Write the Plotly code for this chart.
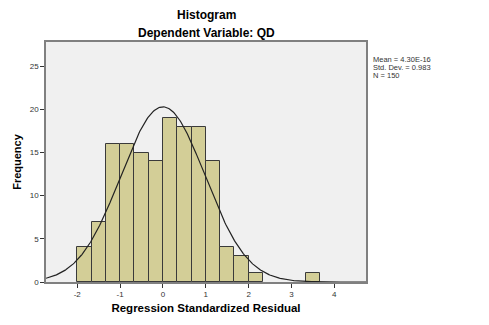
import numpy as np
import plotly.graph_objects as go

# Data
bin_left = [-2.0, -5/3, -4/3, -1.0, -2/3, -1/3, 0.0, 1/3, 2/3, 1.0, 4/3, 5/3, 2.0, 10/3]
counts = [4, 7, 16, 16, 15, 14, 19, 18, 18, 14, 4, 3, 1, 1]
bin_width = 1/3
mean = 4.30e-16
std = 0.983
n = 150
x_ticks = [-2, -1, 0, 1, 2, 3, 4]
y_ticks = [0, 5, 10, 15, 20, 25]
stats_lines = ["Mean = 4.30E-16", "Std. Dev. = 0.983", "N = 150"]

x_range = [-2.73, 4.74]
y_range = [0, 27.8]

centers = [b + bin_width / 2 for b in bin_left]

xs = np.linspace(x_range[0], x_range[1], 400)
ys = n * bin_width * np.exp(-0.5 * ((xs - mean) / std) ** 2) / (std * np.sqrt(2 * np.pi))

fig = go.Figure()
fig.add_trace(go.Bar(
    x=centers, y=counts, width=bin_width,
    marker=dict(color="#D3CE97", line=dict(color="#3a3a3a", width=1)),
    hoverinfo="x+y", showlegend=False,
))
fig.add_trace(go.Scatter(
    x=xs, y=ys, mode="lines",
    line=dict(color="#222222", width=1.2),
    showlegend=False, hoverinfo="skip",
))

font_family = "Liberation Sans, Arial, sans-serif"

annotations = [
    dict(text="<b>Histogram</b>", xref="paper", yref="paper", x=0.5, y=1,
         yshift=27, showarrow=False, font=dict(size=12, color="black"),
         xanchor="center", yanchor="middle"),
    dict(text="<b>Dependent Variable: QD</b>", xref="paper", yref="paper", x=0.5, y=1,
         yshift=9, showarrow=False, font=dict(size=12, color="black"),
         xanchor="center", yanchor="middle"),
]
for i, line in enumerate(stats_lines):
    annotations.append(dict(
        text=line, xref="paper", yref="paper", x=1, xshift=5, y=1, yshift=-17 - 8 * i,
        showarrow=False, align="left", xanchor="left", yanchor="middle",
        font=dict(size=7.5, color="#333333"),
    ))

fig.update_layout(
    width=489, height=325,
    margin=dict(l=46, r=123, t=42, b=38),
    paper_bgcolor="white",
    plot_bgcolor="#F0F0F0",
    bargap=0,
    font=dict(family=font_family, size=8, color="#333333"),
    annotations=annotations,
)

fig.update_xaxes(
    range=x_range, tickvals=x_ticks, ticktext=[str(t) for t in x_ticks],
    ticks="outside", ticklen=4, tickcolor="#333333",
    showgrid=False, zeroline=False,
    showline=True, linecolor="#808080", linewidth=1.5, mirror=True,
    tickfont=dict(size=8, color="#333333"),
    title=dict(text="<b>Regression Standardized Residual</b>",
               font=dict(size=11.5, color="black"), standoff=6),
)
fig.update_yaxes(
    range=y_range, tickvals=y_ticks, ticktext=[str(t) for t in y_ticks],
    ticks="outside", ticklen=4, tickcolor="#333333",
    showgrid=False, zeroline=False,
    showline=True, linecolor="#808080", linewidth=1.5, mirror=True,
    tickfont=dict(size=8, color="#333333"),
    title=dict(text="<b>Frequency</b>", font=dict(size=11, color="black"), standoff=6),
)

fig.write_html("out.html")
